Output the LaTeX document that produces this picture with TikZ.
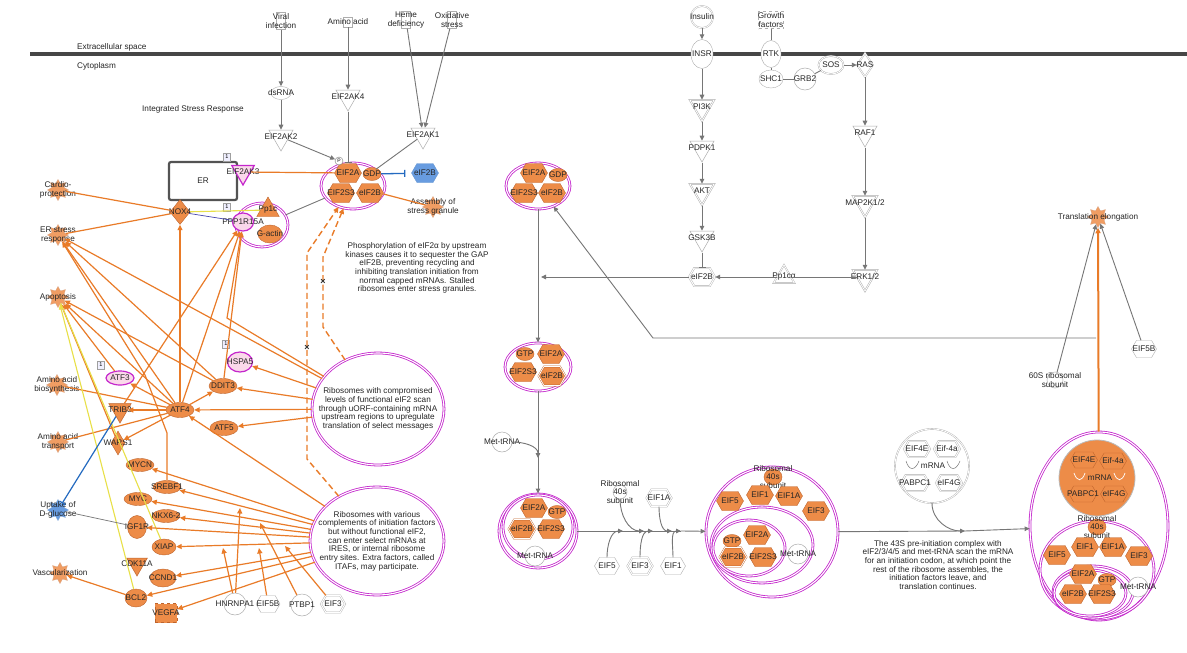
\documentclass[tikz,border=0pt]{standalone}
\usepackage{fontspec}
\setmainfont{Liberation Sans}
\usetikzlibrary{
  arrows.meta,
  positioning,
  shapes.geometric,
  shapes.symbols
}

\definecolor{ofill}{RGB}{237,140,72}
\definecolor{oline}{RGB}{233,123,40}
\definecolor{oedge}{RGB}{190,100,45}
\definecolor{mag}{RGB}{196,38,204}
\definecolor{pinkf}{RGB}{250,216,234}
\definecolor{gline}{RGB}{118,118,118}
\definecolor{bfill}{RGB}{104,156,224}
\definecolor{bline}{RGB}{36,106,192}
\definecolor{yline}{RGB}{232,224,72}

\tikzset{
  lbl/.style={text=black!85, align=center, inner sep=0pt},
  txt/.style={label={[lbl]center:{#1}}},
  cplx/.style={ellipse, draw=mag, line width=0.8pt, double=white, double distance=1.1pt, inner sep=0pt},
  oell/.style={ellipse, fill=ofill, draw=oedge, line width=0.4pt, minimum width=28pt, minimum height=15pt, inner sep=0pt},
  pell/.style={ellipse, fill=pinkf, draw=mag, line width=1.2pt, minimum width=28pt, minimum height=14pt, inner sep=0pt},
  wcirc/.style={circle, fill=white, draw=gline!60, line width=0.5pt, minimum size=20pt, inner sep=0pt},
  wsq/.style={rectangle, fill=white, draw=gline!60, line width=0.5pt, minimum width=9pt, minimum height=17pt, inner sep=0pt},
  ohex/.style={signal, signal to=east and west, signal pointer angle=120, fill=ofill, draw=oedge, line width=0.4pt, minimum width=27pt, minimum height=19pt, inner sep=0pt},
  whex/.style={ohex, fill=white, draw=gline!60},
  dhex/.style={whex, double=white, double distance=1pt},
  tridn/.style={regular polygon, regular polygon sides=3, shape border rotate=180, minimum size=28pt, inner sep=0pt, fill=white, draw=gline!60, line width=0.5pt},
  triup/.style={regular polygon, regular polygon sides=3, minimum size=26pt, inner sep=0pt, fill=ofill, draw=oedge, line width=0.4pt},
  odia/.style={diamond, fill=ofill, draw=oedge, line width=0.4pt, minimum width=20pt, minimum height=25pt, inner sep=0pt},
  func/.style={starburst, starburst points=8, starburst point height=4pt, random starburst=0, fill=ofill!85, draw=oedge!60, line width=0.3pt, minimum size=21pt, inner sep=0pt, txt={#1}},
  onebox/.style={rectangle, draw=gline!70, fill=blue!6, minimum width=7pt, minimum height=8pt, inner sep=0pt, font=\fontsize{5.5}{6}\selectfont},
  gln/.style={draw=gline, line width=0.9pt},
  garr/.style={gln, -{Triangle[length=5pt,width=4.5pt]}},
  oln/.style={draw=oline, line width=1.2pt},
  oarr/.style={oln, -{Triangle[length=5.5pt,width=5pt]}},
  odash/.style={oarr, line width=1.4pt, dash pattern=on 6pt off 3.5pt},
  inh/.style={-{Bar[width=7pt]}}
}

\begin{document}
\begin{tikzpicture}[x=1pt, y=-1pt, font=\fontsize{8.2}{8.7}\selectfont]
\useasboundingbox (0,0) rectangle (1187,653);
\fill[white] (0,0) rectangle (1187,653);

% Membrane
\draw[gray!55!black, line width=3.5pt] (30,54) -- (1187,54);
\node[lbl, anchor=west] (extra) at (77,47) {Extracellular space};
\node[lbl, anchor=west] (cyto) at (77,66) {Cytoplasm};

% Stress signals and eIF2 kinases
\node[wsq, txt={Viral\\infection}] (viral) at (281,21) {};
\node[wsq, minimum height=10pt, txt={Amino acid}] (amino) at (348,22) {};
\node[wsq, txt={Heme\\deficiency}] (heme) at (406,20) {};
\node[wsq, txt={Oxidative\\stress}] (oxid) at (452,20) {};
\node[ellipse, draw=gline!60, minimum width=20pt, minimum height=13pt, inner sep=0pt, txt=dsRNA] (dsrna) at (281,93) {};
\node[tridn, txt=EIF2AK4] (eif2ak4) at (348,97) {};
\node[tridn, txt=EIF2AK2] (eif2ak2) at (281,137) {};
\node[tridn, txt=EIF2AK1] (eif2ak1) at (423,135) {};
\node[lbl] (isr) at (193,109) {Integrated Stress Response};

% eIF2 complex (phosphorylated)
\node[cplx, minimum width=64pt, minimum height=46pt] (cx1) at (353,186) {};
\node[ohex, txt=EIF2A] (c1a) at (348,173) {};
\node[oell, minimum width=18pt, minimum height=13pt, txt=GDP] (c1gdp) at (372,174) {};
\node[ohex, txt=EIF2S3] (c1s3) at (341,193) {};
\node[ohex, txt=eIF2B] (c1b) at (370,193) {};
\node[circle, draw=gline, fill=white, minimum size=8pt, inner sep=0pt, font=\fontsize{5}{5}\selectfont] (pcirc) at (339,161) {P};
\node[ohex, fill=bfill, draw=bline!70, txt=eIF2B] (eif2bb) at (425,173) {};
\node[func={Assembly of\\stress granule}] (sg) at (433,207) {};

\draw[garr] (viral) -- (dsrna);
\draw[garr] (dsrna) -- (eif2ak2);
\draw[garr] (amino) -- (eif2ak4);
\draw[garr] (heme) -- (eif2ak1);
\draw[garr] (oxid) -- (eif2ak1);
\draw[garr] (eif2ak2) -- (pcirc);
\draw[gln, inh] (eif2ak4) -- (eif2ak4 |- cx1.north);
\draw[gln] (eif2ak1) -- (cx1);
\draw[bline, line width=1.3pt, inh, shorten >=6pt] (c1gdp) -- (eif2bb);
\draw[oln] (cx1) -- (sg);

% ER and PPP1R15A complex
\node[rectangle, draw=gray!65!black, line width=2.2pt, rounded corners=2pt, minimum width=68pt, minimum height=38pt, fill=white, lbl] (er) at (203,181) {ER};
\node[tridn, fill=pinkf, draw=mag, line width=1.2pt, minimum size=26pt, txt=EIF2AK3] (eif2ak3) at (243,172) {};
\node[onebox] (one1) at (227,157) {1};
\node[onebox] (one2) at (227,207) {1};
\node[odia, txt=NOX4] (nox4) at (180,212) {};
\node[cplx, minimum width=52pt, minimum height=44pt] (cxppp) at (262,225) {};
\node[triup, txt=Pp1c] (pp1c) at (268,210) {};
\node[pell, minimum width=21pt, minimum height=18pt, txt=PPP1R15A] (ppp) at (243,222) {};
\node[oell, minimum width=24pt, minimum height=18pt, txt=G-actin] (gact) at (270,234) {};
\draw[oln] (eif2ak3) -- (c1a);
\draw[gln] (cxppp) -- (cx1);
\draw[yline, line width=1.1pt] (nox4) -- (pp1c);
\draw[gline!60!blue, line width=0.7pt] (nox4) -- (ppp);

% Cellular functions
\node[func={Cardio-\\protection}] (cardio) at (58,190) {};
\node[func={ER stress\\response}] (ersr) at (58,235) {};
\node[func=Apoptosis] (apop) at (58,297) {};
\node[func={Amino acid\\biosynthesis}] (aabio) at (57,385) {};
\node[func={Amino acid\\transport}] (aatr) at (58,442) {};
\node[func={Uptake of\\D-glucose}, fill=bfill, draw=bline!60] (glu) at (58,510) {};
\node[func=Vascularization] (vasc) at (60,573) {};

% Translated targets
\node[oell, txt=ATF4] (atf4) at (180,410) {};
\node[pell, txt=ATF3] (atf3) at (120,378) {};
\node[onebox] (one3) at (101,365) {1};
\node[tridn, fill=ofill, draw=oedge, minimum size=26pt, txt=TRIB3] (trib3) at (120,410) {};
\node[odia, minimum width=14pt, minimum height=24pt, txt=WARS1] (wars1) at (118,443) {};
\node[oell, txt=DDIT3] (ddit3) at (223,386) {};
\node[pell, minimum width=25pt, minimum height=20pt, txt=HSPA5] (hspa5) at (240,362) {};
\node[onebox] (one4) at (226,344) {1};
\node[oell, txt=ATF5] (atf5) at (224,428) {};
\node[oell, minimum height=13pt, txt=MYCN] (mycn) at (140,465) {};
\node[oell, minimum height=13pt, txt=SREBF1] (srebf1) at (167,487) {};
\node[oell, minimum height=13pt, txt=MYC] (myc) at (138,499) {};
\node[oell, minimum height=13pt, txt=NKX6-2] (nkx62) at (166,516) {};
\node[oell, minimum width=19pt, minimum height=23pt, txt=IGF1R] (igf1r) at (137,527) {};
\node[oell, minimum width=24pt, minimum height=16pt, txt=XIAP] (xiap) at (164,547) {};
\node[tridn, fill=ofill, draw=oedge, minimum size=24pt, txt=CDK11A] (cdk11a) at (137,564) {};
\node[oell, minimum width=26pt, minimum height=18pt, txt=CCND1] (ccnd1) at (163,578) {};
\node[oell, minimum width=22pt, minimum height=18pt, txt=BCL2] (bcl2) at (136,598) {};
\node[rectangle, fill=ofill, draw=oedge, dashed, minimum width=22pt, minimum height=19pt, inner sep=0pt, txt=VEGFA] (vegfa) at (166,613) {};

% ITAFs
\node[wcirc, minimum size=22pt, txt=HNRNPA1] (hnrnpa1) at (235,604) {};
\node[whex, minimum width=24pt, minimum height=17pt, txt=EIF5B] (eif5bi) at (268,604) {};
\node[wcirc, minimum size=22pt, txt=PTBP1] (ptbp1) at (302,605) {};
\node[dhex, minimum width=24pt, minimum height=17pt, txt=EIF3] (eif3i) at (333,604) {};

% Ribosome states
\node[cplx, minimum width=132pt, minimum height=112pt, txt={Ribosomes with compromised\\levels of functional eIF2 scan\\through uORF-containing mRNA\\upstream regions to upregulate\\translation of select messages}] (rib1) at (378,409) {};
\node[cplx, minimum width=134pt, minimum height=108pt, txt={Ribosomes with various\\complements of initiation factors\\but without functional eIF2,\\can enter select mRNAs at\\IRES, or internal ribosome\\entry sites. Extra factors, called\\ITAFs, may participate.}] (rib2) at (377,541) {};
\node[lbl] (phos) at (417,268) {Phosphorylation of eIF2α by upstream\\kinases causes it to sequester the GAP\\eIF2B, preventing recycling and\\inhibiting translation initiation from\\normal capped mRNAs. Stalled\\ribosomes enter stress granules.};

% Stalled ribosomes back to eIF2
\draw[odash] (rib2) -- (307,459) -- (307,253) -- (cx1);
\draw[odash] (rib1) -- (323,327) -- (323,257) -- (cx1);
\node[lbl, font=\fontsize{9}{9}\selectfont\bfseries] (x1) at (323,282) {×};
\node[lbl, font=\fontsize{9}{9}\selectfont\bfseries] (x2) at (307,348) {×};

% ATF4 network
\draw[oarr] (atf4) -- (nox4);
\draw[oarr] (atf4) -- (atf3);
\draw[oarr] (atf4) -- (ddit3);
\draw[oarr] (atf4) -- (trib3);
\draw[oarr] (atf4) -- (wars1);
\draw[oln] (atf4) -- (aabio);
\draw[oln] (atf4) -- (aatr);
\draw[oarr] (atf4) -- (ppp);
\draw[oarr] (atf4) -- (ersr);
\draw[oarr] (atf4) -- (apop);
\draw[oln] (nox4) -- (cardio);
\draw[oln] (nox4) -- (ersr);
\draw[oarr] (ddit3) -- (ersr);
\draw[oarr] (ddit3) -- (apop);
\draw[oarr] (ddit3) -- (ppp);
\draw[oarr] (atf3) -- (apop);
\draw[oarr] (trib3) -- (ppp);
\draw[oarr] (wars1) -- (apop);
\draw[oarr] (srebf1) -- (167,433) -- (145,375) -- (ersr);
\draw[yline, line width=1.1pt, -{Triangle[length=5pt,width=4.5pt]}] (bcl2) -- (apop);
\draw[yline, line width=1.1pt] (xiap) -- (apop);
\draw[bline, line width=1.2pt, inh] (trib3) -- (glu);
\draw[gln, line width=0.7pt] (glu) -- (igf1r);
\draw[oarr] (bcl2) -- (vasc);

% uORF scanning
\draw[oarr] (rib1) -- (hspa5);
\draw[oarr] (rib1) -- (ddit3);
\draw[oarr] (rib1) -- (atf4);
\draw[oarr] (rib1) -- (atf5);
\draw[oarr] (rib1) -- (ersr);
\draw[oarr] (rib1) -- (227,318) -- (ppp);

% IRES translation
\draw[oarr] (rib2) -- (atf4);
\draw[oarr] (rib2) -- (mycn);
\draw[oarr] (rib2) -- (srebf1);
\draw[oarr] (rib2) -- (myc);
\draw[oarr] (rib2) -- (nkx62);
\draw[oarr] (rib2) -- (igf1r);
\draw[oarr] (rib2) -- (xiap);
\draw[oarr] (rib2) -- (ccnd1);
\draw[oarr] (rib2) -- (bcl2);
\draw[oarr] (rib2) -- (vegfa);
\coordinate (it1) at (223,548);
\coordinate (it2) at (240,508);
\coordinate (it3) at (259,548);
\coordinate (it4) at (260,523);
\coordinate (it5) at (285,546);
\draw[oarr] (hnrnpa1) -- (it1);
\draw[oarr] (hnrnpa1) -- (it2);
\draw[oarr] (eif5bi) -- (it3);
\draw[oarr] (ptbp1) -- (it4);
\draw[oarr] (eif3i) -- (it5);

% Insulin and growth factor signalling
\node[circle, draw=gline!60, double=white, double distance=0.8pt, fill=white, minimum size=22pt, inner sep=0pt, txt=Insulin] (insulin) at (702,17) {};
\node[rectangle, draw=gline!60, dashed, minimum width=25pt, minimum height=17pt, inner sep=0pt, txt={Growth\\factors}] (growth) at (771,20) {};
\node[ellipse, draw=gline!60, fill=white, minimum width=22pt, minimum height=29pt, inner sep=0pt, txt=INSR] (insr) at (702,54) {};
\node[ellipse, draw=gline!60, fill=white, minimum width=20pt, minimum height=27pt, inner sep=0pt, txt=RTK] (rtk) at (771,54) {};
\node[ellipse, draw=gline!60, fill=white, minimum width=24pt, minimum height=18pt, inner sep=0pt, txt=SHC1] (shc1) at (771,79) {};
\node[wcirc, minimum size=22pt, txt=GRB2] (grb2) at (805,79) {};
\node[ellipse, draw=gline!60, double=white, double distance=0.8pt, fill=white, minimum width=25pt, minimum height=18pt, inner sep=0pt, txt=SOS] (sos) at (831,65) {};
\node[diamond, draw=gline!60, double=white, double distance=0.8pt, fill=white, minimum width=16pt, minimum height=24pt, inner sep=0pt, txt=RAS] (ras) at (865,65) {};
\node[tridn, double=white, double distance=0.8pt, txt=PI3K] (pi3k) at (702,107) {};
\node[tridn, txt=PDPK1] (pdpk1) at (702,148) {};
\node[tridn, double=white, double distance=0.8pt, txt=AKT] (akt) at (702,191) {};
\node[tridn, txt=GSK3B] (gsk3b) at (702,238) {};
\node[dhex, minimum width=26pt, minimum height=18pt, txt=eIF2B] (eif2bw) at (702,277) {};
\node[tridn, txt=RAF1] (raf1) at (865,133) {};
\node[tridn, double=white, double distance=0.8pt, txt=MAP2K1/2] (map2k) at (865,203) {};
\node[tridn, double=white, double distance=0.8pt, txt=ERK1/2] (erk) at (865,277) {};
\node[regular polygon, regular polygon sides=3, minimum size=24pt, inner sep=0pt, fill=white, draw=gline!60, double=white, double distance=0.8pt, txt=Pp1cα] (pp1ca) at (784,277) {};
\coordinate (jn2) at (541,277);
\draw[garr] (insulin) -- (insr);
\draw[gln] (growth) -- (rtk);
\draw[gln] (rtk) -- (shc1);
\draw[gln] (shc1) -- (grb2);
\draw[gln] (grb2) -- (sos);
\draw[garr] (sos) -- (ras);
\draw[garr] (insr) -- (pi3k);
\draw[garr] (pi3k) -- (pdpk1);
\draw[garr] (pdpk1) -- (akt);
\draw[garr] (akt) -- (gsk3b);
\draw[gln, inh] (gsk3b) -- (eif2bw);
\draw[garr] (ras) -- (raf1);
\draw[garr] (raf1) -- (map2k);
\draw[garr] (map2k) -- (erk);
\draw[gln] (erk) -- (pp1ca);
\draw[garr] (pp1ca) -- (eif2bw);
\draw[garr] (eif2bw) -- (jn2);

% eIF2 recycling
\node[cplx, minimum width=64pt, minimum height=46pt] (cx2) at (538,186) {};
\node[ohex, txt=EIF2A] (c2a) at (534,173) {};
\node[oell, minimum width=18pt, minimum height=13pt, txt=GDP] (c2gdp) at (558,175) {};
\node[ohex, txt=EIF2S3] (c2s3) at (524,193) {};
\node[ohex, txt=eIF2B] (c2b) at (552,193) {};
\node[cplx, minimum width=66pt, minimum height=48pt] (cx3) at (538,367) {};
\node[oell, minimum width=18pt, minimum height=13pt, txt=GTP] (c3gtp) at (525,354) {};
\node[ohex, txt=EIF2A] (c3a) at (551,354) {};
\node[ohex, txt=EIF2S3] (c3s3) at (523,372) {};
\node[ohex, double=white, double distance=0.8pt, txt=eIF2B] (c3b) at (552,376) {};
\node[wcirc, txt=Met-tRNA] (mettr) at (502,442) {};
\node[cplx, minimum width=78pt, minimum height=74pt] (cx4) at (538,531) {};
\node[cplx, minimum width=70pt, minimum height=64pt] (cx4b) at (538,527) {};
\node[ohex, txt=EIF2A] (c4a) at (534,508) {};
\node[oell, minimum width=18pt, minimum height=13pt, txt=GTP] (c4gtp) at (557,512) {};
\node[ohex, double=white, double distance=0.8pt, txt=eIF2B] (c4b) at (522,529) {};
\node[ohex, txt=EIF2S3] (c4s3) at (551,529) {};
\node[wcirc, txt=Met-tRNA] (c4met) at (535,556) {};
\coordinate (jmet) at (538,458);
\coordinate (lp1) at (1096,338);
\coordinate (lp2) at (653,338);
\draw[garr] (cx2) -- (cx3);
\draw[garr] (mettr) to[out=0, in=90] (jmet);
\draw[garr] (cx3) -- (cx4);
\draw[garr] (lp1) -- (lp2) -- (cx2);

% 43S assembly
\node[wcirc, minimum size=14pt, txt={Ribosomal\\40s\\subunit}] (r40) at (620,492) {};
\node[dhex, minimum width=25pt, minimum height=17pt, txt=EIF1A] (e1a) at (659,498) {};
\node[whex, minimum width=25pt, minimum height=17pt, txt=EIF5] (e5) at (607,566) {};
\node[dhex, minimum width=25pt, minimum height=17pt, txt=EIF3] (e3) at (640,566) {};
\node[whex, minimum width=25pt, minimum height=17pt, txt=EIF1] (e1) at (673,566) {};
\coordinate (m1) at (623,531);
\coordinate (m2) at (644,531);
\coordinate (m3) at (653,531);
\coordinate (m4) at (672,531);
\coordinate (m5) at (681,531);
\node[cplx, minimum width=132pt, minimum height=130pt] (cx5) at (772,532) {};
\node[cplx, minimum width=102pt, minimum height=76pt] (cx5b) at (762,545) {};
\node[cplx, minimum width=72pt, minimum height=56pt] (cx5c) at (749,548) {};
\node[oell, minimum width=18pt, minimum height=16pt, txt={Ribosomal\\40s\\subunit}] (c5r40) at (773,477) {};
\node[ohex, txt=EIF5] (c5e5) at (730,501) {};
\node[ohex, txt=EIF1] (c5e1) at (760,495) {};
\node[ohex, txt=EIF1A] (c5e1a) at (789,496) {};
\node[ohex, txt=EIF3] (c5e3) at (816,511) {};
\node[ohex, txt=EIF2A] (c5a) at (757,535) {};
\node[oell, minimum width=18pt, minimum height=13pt, txt=GTP] (c5gtp) at (732,541) {};
\node[ohex, double=white, double distance=0.8pt, txt=eIF2B] (c5b) at (733,557) {};
\node[ohex, txt=EIF2S3] (c5s3) at (763,557) {};
\node[wcirc, txt=Met-tRNA] (c5met) at (798,554) {};
\draw[gln] (cx4) -- (m5);
\draw[garr] (m5) -- (cx5);
\draw[garr] (e5) to[out=90, in=180] (m1);
\draw[garr] (r40) to[out=-90, in=180] (m2);
\draw[garr] (e3) to[out=90, in=180] (m3);
\draw[garr] (e1a) to[out=-90, in=180] (m4);
\draw[garr] (e1) to[out=90, in=180] (m5);

% mRNA cap complex
\node[circle, draw=gline!60, double=white, double distance=0.8pt, fill=white, minimum size=74pt, inner sep=0pt] (eifw) at (932,466) {};
\node[dhex, minimum width=26pt, minimum height=16pt, txt=EIF4E] (w4e) at (917,449) {};
\node[dhex, minimum width=26pt, minimum height=16pt, txt=Eif-4a] (w4a) at (947,449) {};
\node[dhex, minimum width=28pt, minimum height=16pt, txt=PABPC1] (wpab) at (915,483) {};
\node[dhex, minimum width=26pt, minimum height=16pt, txt=eIF4G] (w4g) at (949,483) {};
\node[lbl] (wmrna) at (933,466) {mRNA};
\draw[gline, line width=0.5pt] (906,461) .. controls (909,471) and (915,471) .. (919,461);
\draw[gline, line width=0.5pt] (947,461) .. controls (950,471) and (956,471) .. (960,461);
\node[lbl] (note43) at (938,565) {The 43S pre-initiation complex with\\eIF2/3/4/5 and met-tRNA scan the mRNA\\for an initiation codon, at which point the\\rest of the ribosome assembles, the\\initiation factors leave, and\\translation continues.};
\coordinate (n1) at (965,531);
\draw[gln] (cx5) -- (n1);
\draw[garr] (eifw) to[out=-90, in=180] (n1);

% 48S complex
\node[cplx, minimum width=138pt, minimum height=188pt] (cx6) at (1099,526) {};
\node[circle, fill=ofill, draw=gline!50, line width=0.8pt, minimum size=76pt, inner sep=0pt] (c6m) at (1097,478) {};
\node[ohex, minimum width=27pt, minimum height=16pt, txt=EIF4E] (c64e) at (1084,460) {};
\node[ohex, minimum width=27pt, minimum height=16pt, txt=Eif-4a] (c64a) at (1113,461) {};
\node[ohex, minimum width=28pt, minimum height=16pt, txt=PABPC1] (c6pab) at (1083,494) {};
\node[ohex, minimum width=27pt, minimum height=16pt, txt=eIF4G] (c64g) at (1114,494) {};
\node[lbl] (c6mrna) at (1100,478) {mRNA};
\draw[white, line width=0.7pt] (1074,473) .. controls (1077,482) and (1082,482) .. (1085,473);
\draw[white, line width=0.7pt] (1114,473) .. controls (1117,482) and (1122,482) .. (1125,473);
\node[cplx, minimum width=114pt, minimum height=98pt] (cx6b) at (1097,570) {};
\node[cplx, minimum width=80pt, minimum height=52pt] (cx6c) at (1093,592) {};
\node[cplx, minimum width=72pt, minimum height=46pt] (cx6d) at (1090,593) {};
\node[oell, minimum width=18pt, minimum height=16pt, txt={Ribosomal\\40s\\subunit}] (c6r40) at (1097,527) {};
\node[ohex, txt=EIF5] (c6e5) at (1057,555) {};
\node[ohex, txt=EIF1] (c6e1) at (1085,547) {};
\node[ohex, txt=EIF1A] (c6e1a) at (1113,547) {};
\node[ohex, txt=EIF3] (c6e3) at (1139,556) {};
\node[ohex, txt=EIF2A] (c6a) at (1083,574) {};
\node[oell, minimum width=18pt, minimum height=13pt, txt=GTP] (c6gtp) at (1107,580) {};
\node[ohex, txt=eIF2B] (c6b) at (1073,594) {};
\node[ohex, txt=EIF2S3] (c6s3) at (1102,594) {};
\node[wcirc, txt=Met-tRNA] (c6met) at (1138,587) {};
\draw[garr] (n1) -- (cx6);

% Elongation
\node[func={Translation elongation}] (transel) at (1098,217) {};
\node[wcirc, minimum size=16pt, txt={60S ribosomal\\subunit}] (r60) at (1055,380) {};
\node[whex, minimum width=25pt, minimum height=17pt, txt=EIF5B] (eif5be) at (1144,349) {};
\draw[oarr, line width=2pt] (cx6) -- (transel);
\draw[garr] (r60) -- (transel);
\draw[garr] (eif5be) -- (transel);
\end{tikzpicture}
\end{document}
